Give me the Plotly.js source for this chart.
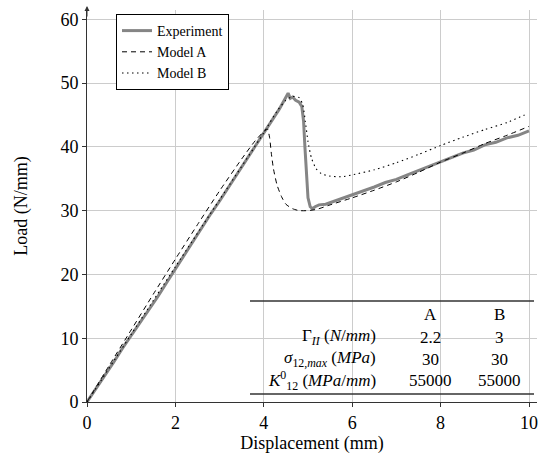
<!DOCTYPE html>
<html>
<head>
<meta charset="utf-8">
<script src="https://cdn.plot.ly/plotly-3.0.1.min.js"></script>
<style>html,body{margin:0;padding:0;background:#fff;}#chart{width:539px;height:456px;}</style>
</head>
<body>
<div id="chart"></div>
<script>
// Experiment
var expX = [0, 0.2, 0.4, 0.6, 0.8, 1.0, 1.2, 1.4, 1.6, 1.8, 2.0, 2.2, 2.4, 2.6, 2.8, 3.0, 3.2, 3.4, 3.6, 3.8, 4.0, 4.2, 4.35, 4.45, 4.55, 4.6, 4.65, 4.72, 4.8, 4.86, 4.9, 4.93, 4.96, 5.0, 5.05, 5.1, 5.16, 5.25, 5.4, 5.6, 5.8, 6.0, 6.25, 6.5, 6.75, 7.0, 7.25, 7.5, 7.75, 8.0, 8.25, 8.5, 8.75, 9.0, 9.25, 9.5, 9.75, 10.0];
var expY = [0, 2.0, 4.1, 6.2, 8.4, 10.4, 12.5, 14.4, 16.5, 18.7, 20.9, 23.0, 25.2, 27.3, 29.5, 31.5, 33.6, 35.7, 37.8, 39.9, 42.0, 44.3, 45.9, 47.2, 48.4, 47.6, 47.8, 47.3, 47.0, 46.3, 44.0, 40.0, 35.5, 32.0, 30.6, 30.3, 30.6, 30.9, 31.0, 31.5, 31.9, 32.4, 33.1, 33.7, 34.4, 34.9, 35.6, 36.3, 36.9, 37.6, 38.4, 39.0, 39.5, 40.3, 40.7, 41.4, 41.8, 42.5];

// Model A
var modelAX = [0, 0.5, 1.0, 1.5, 2.0, 2.5, 3.0, 3.5, 3.8, 4.0, 4.08, 4.13, 4.17, 4.22, 4.3, 4.4, 4.5, 4.65, 4.8, 5.0, 5.2, 5.5, 6.0, 6.5, 7.0, 7.5, 8.0, 8.5, 9.0, 9.5, 10.0];
var modelAY = [0, 5.7, 11.3, 16.9, 22.4, 27.8, 33.1, 38.1, 40.9, 42.4, 42.8, 41.5, 39.0, 36.5, 34.0, 32.2, 31.0, 30.3, 30.0, 30.0, 30.2, 30.9, 32.0, 33.2, 34.5, 36.0, 37.6, 39.0, 40.5, 41.8, 43.2];

// Model B
var modelBX = [0, 1.0, 2.0, 3.0, 4.0, 4.3, 4.5, 4.65, 4.8, 4.88, 4.94, 5.0, 5.08, 5.18, 5.3, 5.5, 5.75, 6.0, 6.5, 7.0, 7.5, 8.0, 8.5, 9.0, 9.5, 9.9];
var modelBY = [0, 10.6, 21.2, 31.7, 42.2, 45.6, 47.3, 47.9, 47.7, 46.6, 44.0, 40.8, 38.2, 36.6, 35.8, 35.4, 35.3, 35.6, 36.4, 37.5, 38.8, 40.2, 41.5, 42.7, 43.8, 45.0];

// Table
var tableHeaders = ["A", "B"];
var tableRowLabels = ["Γ<sub><i>II</i></sub> (<i>N</i>/<i>mm</i>)", "<i>σ</i><sub>12,<i>max</i></sub> (<i>MPa</i>)", "<i>K</i><sup>0</sup><sub>12</sub> (<i>MPa</i>/<i>mm</i>)"];
var tableColA = ["2.2", "30", "55000"];
var tableColB = ["3", "30", "55000"];

var xTicks = [0, 2, 4, 6, 8, 10];
var yTicks = [0, 10, 20, 30, 40, 50, 60];

var W = 539, H = 456, ML = 87, MR = 2, MT = 10, MB = 54;
var PW = W - ML - MR, PH = H - MT - MB;
function px2paperX(px) { return (px - ML) / PW; }
function px2paperY(py) { return (H - MB - py) / PH; }

var font = '"Liberation Serif", "Times New Roman", Times, serif';

var traces = [
  {x: expX, y: expY, type: 'scatter', mode: 'lines', name: 'Experiment',
   line: {color: '#858585', width: 3}, legendgroup: 'e'},
  {x: modelAX, y: modelAY, type: 'scatter', mode: 'lines', name: 'Model A',
   line: {color: '#000', width: 1, dash: '5px,4px', shape: 'spline', smoothing: 0.6}, legendgroup: 'a'},
  {x: modelBX, y: modelBY, type: 'scatter', mode: 'lines', name: 'Model B',
   line: {color: '#000', width: 1.1, dash: '1.5px,3.5px', shape: 'spline', smoothing: 0.6}, legendgroup: 'b'}
];

var annotations = [];
var colAx = 430, colBx = 499, labelRight = 378;
var headerY = 314, rowYs = [337, 359, 380];
var tf = {family: font, size: 17, color: '#000'};
annotations.push({xref: 'paper', yref: 'paper', x: px2paperX(colAx), y: px2paperY(headerY), text: tableHeaders[0], showarrow: false, xanchor: 'center', yanchor: 'middle', font: tf});
annotations.push({xref: 'paper', yref: 'paper', x: px2paperX(colBx), y: px2paperY(headerY), text: tableHeaders[1], showarrow: false, xanchor: 'center', yanchor: 'middle', font: tf});
for (var i = 0; i < tableRowLabels.length; i++) {
  annotations.push({xref: 'paper', yref: 'paper', x: px2paperX(labelRight), y: px2paperY(rowYs[i]), text: tableRowLabels[i], showarrow: false, xanchor: 'right', yanchor: 'middle', font: tf});
  annotations.push({xref: 'paper', yref: 'paper', x: px2paperX(colAx), y: px2paperY(rowYs[i]), text: tableColA[i], showarrow: false, xanchor: 'center', yanchor: 'middle', font: tf});
  annotations.push({xref: 'paper', yref: 'paper', x: px2paperX(colBx), y: px2paperY(rowYs[i]), text: tableColB[i], showarrow: false, xanchor: 'center', yanchor: 'middle', font: tf});
}
// y-axis arrowhead
annotations.push({xref: 'paper', yref: 'paper', x: 0, y: px2paperY(6), ax: 0, ay: 12, text: '', showarrow: true, arrowhead: 2, arrowsize: 1, arrowwidth: 1, arrowcolor: '#333'});

var shapes = [
  {type: 'rect', xref: 'paper', yref: 'paper', x0: px2paperX(245), x1: 1, y0: px2paperY(400), y1: px2paperY(293), fillcolor: '#fff', line: {width: 0}, layer: 'between'},
  {type: 'line', xref: 'paper', yref: 'paper', x0: px2paperX(250), x1: px2paperX(534), y0: px2paperY(301), y1: px2paperY(301), line: {color: '#333', width: 1.3}},
  {type: 'line', xref: 'paper', yref: 'paper', x0: px2paperX(250), x1: px2paperX(534), y0: px2paperY(394), y1: px2paperY(394), line: {color: '#333', width: 1.3}}
];

var layout = {
  width: W, height: H,
  margin: {l: ML, r: MR, t: MT, b: MB, pad: 0},
  paper_bgcolor: '#fff', plot_bgcolor: '#fff',
  font: {family: font, size: 17, color: '#000'},
  showlegend: true,
  legend: {x: px2paperX(116), y: px2paperY(14), xanchor: 'left', yanchor: 'top',
           bgcolor: '#fff', bordercolor: '#000', borderwidth: 1,
           font: {family: font, size: 14, color: '#000'}, tracegroupgap: 0, itemwidth: 30},
  xaxis: {range: [0, PW / 44.2], tickvals: xTicks, ticktext: xTicks.map(String),
          showgrid: true, gridcolor: '#cccccc', gridwidth: 1, zeroline: false,
          showline: true, linecolor: '#333', linewidth: 1, ticks: 'outside', ticklen: 4, tickcolor: '#333',
          tickfont: {family: font, size: 18, color: '#000'},
          title: {text: 'Displacement (mm)', font: {family: font, size: 18, color: '#000'}, standoff: 4}},
  yaxis: {range: [0, PH / 6.38], tickvals: yTicks, ticktext: yTicks.map(String),
          showgrid: true, gridcolor: '#cccccc', gridwidth: 1, zeroline: false,
          showline: true, linecolor: '#333', linewidth: 1, ticks: 'outside', ticklen: 4, tickcolor: '#333',
          tickfont: {family: font, size: 18, color: '#000'},
          title: {text: 'Load (N/mm)', font: {family: font, size: 18, color: '#000'}, standoff: 28}},
  annotations: annotations,
  shapes: shapes
};

Plotly.newPlot('chart', traces, layout, {staticPlot: true, displayModeBar: false});
</script>
</body>
</html>
